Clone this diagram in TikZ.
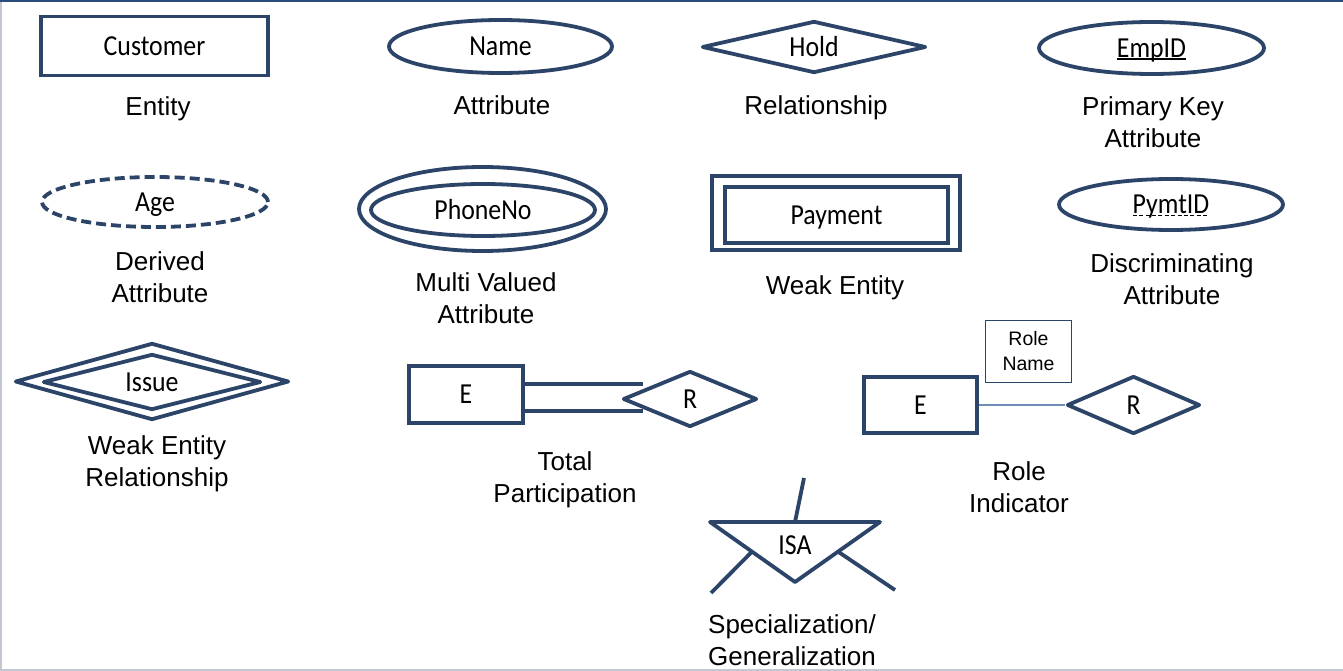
\documentclass[tikz,border=0pt]{standalone}
\usepackage{fontspec}
\setmainfont{Liberation Sans}
\newfontfamily\carl[FakeStretch=0.89]{Carlito}
\usetikzlibrary{shapes.geometric,calc}
\definecolor{navy}{HTML}{2B4468}
\definecolor{topblue}{HTML}{2A4B7C}
\definecolor{linkblue}{HTML}{6F8DB8}
\definecolor{edgegray}{HTML}{C4C6D2}
\newcommand\solidul[1]{\setbox0\hbox{#1}\rlap{\rule[-2.5pt]{\wd0}{1.4pt}}\box0}
\newcommand\dashul[1]{\setbox0\hbox{#1}\rlap{\hbox to\wd0{\xleaders\hbox to 6pt{\rule[-2.5pt]{4pt}{1.4pt}\hss}\hfill}}\box0}
\tikzset{
  shp/.style={draw=navy, line width=3.8pt, inner sep=0pt, fill=white,
    font=\carl\fontsize{29}{32}\selectfont, text height=18.7pt, text depth=0pt},
  entbox/.style={shp, rectangle},
  attrell/.style={shp, ellipse},
  reldia/.style={shp, diamond, aspect=4, line join=round},
  lbl/.style={font=\fontsize{26}{32}\selectfont, align=center, anchor=base, inner sep=0pt},
  navyline/.style={draw=navy, line width=3.8pt},
}
\begin{document}
\begin{tikzpicture}[x=1pt,y=-1pt]
\useasboundingbox (0,0) rectangle (1343,671);
\fill[white] (0,0) rectangle (1343,671);
\draw[edgegray, line width=1.5pt] (0.75,0) -- (0.75,671);
\draw[edgegray, line width=1.5pt] (0,670) -- (1343,670);
\draw[topblue, line width=2.5pt] (0,1.25) -- (1343,1.25);

% Row 1
\node[entbox, minimum width=227pt, minimum height=59pt] (cust) at (154.5,46) {Customer};
\node[lbl] (lcust) at (158,116) {Entity};

\node[attrell, minimum width=223pt, minimum height=53pt] (name) at (500.5,46.5) {Name};
\node[lbl] (lname) at (502,115) {Attribute};

\node[reldia, minimum width=224pt, minimum height=52pt] (hold) at (814,47) {Hold};
\node[lbl] (lhold) at (816,115) {Relationship};

\node[attrell, minimum width=225pt, minimum height=52pt] (emp) at (1151.5,48) {\solidul{EmpID}};
\node[lbl] (lemp) at (1153,148) {Primary Key\\Attribute};

% Row 2
\node[attrell, dash pattern=on 10pt off 5pt, minimum width=226pt, minimum height=50pt] (age) at (155,202) {Age};
\node[lbl] (lage) at (160,302) {Derived\\Attribute};

\node[attrell, minimum width=247pt, minimum height=84pt] (phoneout) at (482.5,209) {};
\node[attrell, minimum width=224pt, minimum height=52pt] (phone) at (483,210) {PhoneNo};
\node[lbl] (lphone) at (486,323) {Multi Valued\\Attribute};

\node[entbox, minimum width=248pt, minimum height=74pt] (payout) at (836,213) {};
\node[entbox, minimum width=223pt, minimum height=56pt] (pay) at (836.5,215) {Payment};
\node[lbl] (lpay) at (835,294) {Weak Entity};

\node[attrell, minimum width=224pt, minimum height=51pt] (pymt) at (1171,204.5) {\dashul{PymtID}};
\node[lbl] (lpymt) at (1172,304) {Discriminating\\Attribute};

% Row 3
\node[reldia, minimum width=274pt, minimum height=77pt] (issueout) at (152,381.5) {};
\node[reldia, minimum width=218pt, minimum height=56pt] (issue) at (152,382) {Issue};
\node[lbl] (lissue) at (157,486) {Weak Entity\\Relationship};

% Total participation
\node[entbox, minimum width=114pt, minimum height=57pt] (e1) at (466,394.5) {E};
\node[reldia, minimum width=134pt, minimum height=56pt] (r1) at (690,399) {R};
\draw[navyline] ($(e1.east)+(0,-10.5)$) -- ($(e1.east -| r1.west)+(22,-10.5)$);
\draw[navyline] ($(e1.east)+(0,16.5)$) -- ($(e1.east -| r1.west)+(22,16.5)$);
\node[lbl] (ltotal) at (565,502) {Total\\Participation};

% Role indicator
\node[entbox, minimum width=113pt, minimum height=56pt] (e2) at (920.5,405) {E};
\node[reldia, minimum width=133pt, minimum height=58pt] (r2) at (1133.5,405) {R};
\draw[linkblue, line width=1.6pt] (e2.east) -- (r2.west);
\node[draw=navy, line width=1.2pt, minimum width=86pt, minimum height=62pt, inner sep=0pt,
      align=center, font=\fontsize{19.5}{25}\selectfont] (rolename) at (1028.5,351.5) {Role\\Name};
\node[lbl] (lrole) at (1019,512) {Role\\Indicator};

% ISA
\coordinate (tl) at (710,522);
\coordinate (tr) at (880,522);
\coordinate (tb) at (795,582);
\coordinate (stemtop) at (804,478);
\draw[navyline, line join=round] (tl) -- (tr) -- (tb) -- cycle;
\node[font=\carl\fontsize{29}{32}\selectfont, inner sep=0pt, text height=18.7pt, text depth=0pt] (isa) at (795,545) {ISA};
\draw[navyline] ($(tl)!0.5!(tr)$) -- (stemtop);
\draw[navyline] ($(tl)!0.494!(tb)$) -- (711,593);
\draw[navyline] ($(tr)!0.494!(tb)$) -- (895,590);
\node[lbl] (lisa) at (792,665) {Specialization/\\Generalization};
\end{tikzpicture}
\end{document}
